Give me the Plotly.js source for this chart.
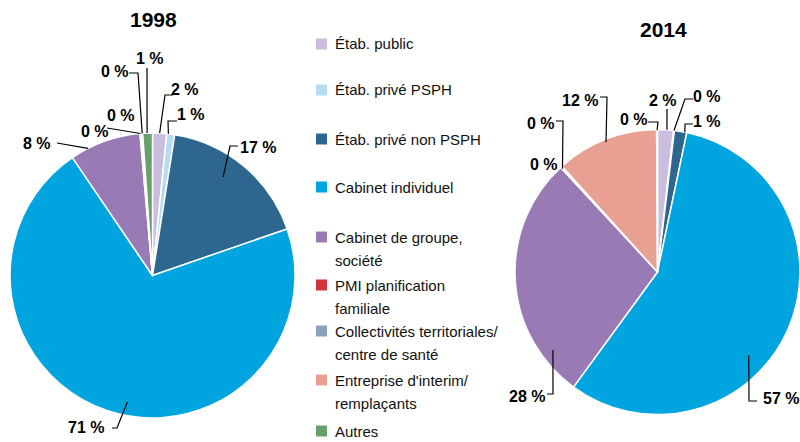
<!DOCTYPE html>
<html>
<head>
<meta charset="utf-8">
<script src="https://cdn.plot.ly/plotly-3.0.1.min.js"></script>
<style>html,body{margin:0;padding:0;background:#fff;}#chart{width:800px;height:442px;}</style>
</head>
<body>
<div id="chart"></div>
<script>
// ---- Data ----
const categories = [
  "Étab. public",
  "Étab. privé PSPH",
  "Étab. privé non PSPH",
  "Cabinet individuel",
  "Cabinet de groupe,<br>société",
  "PMI planification<br>familiale",
  "Collectivités territoriales/<br>centre de santé",
  "Entreprise d'interim/<br>remplaçants",
  "Autres"
];
const years = ["1998", "2014"];
const values1998 = [1.6, 0.9, 17.2, 70.8, 8.1, 0.1, 0.1, 0.1, 1.1];
const values2014 = [1.8, 0.1, 1.4, 56.8, 28.1, 0.1, 0.1, 11.6, 0.1];

// ---- Styles ----
const colors = ["#CBBDDD", "#B7DBF3", "#2D6790", "#00A5DF", "#9A7AB5",
                "#D1343A", "#8AA1BE", "#E8A093", "#67A06A"];
const W = 800, H = 442;
const FONT = "Liberation Sans, Arial, sans-serif";

// pie boxes in pixels (layout)
const pieBoxes = [
  {x0: 10, x1: 295, y0: 133, y1: 418, titleX: 153, titleY: 19.5},
  {x0: 515, x1: 800, y0: 129.5, y1: 414.5, titleX: 663, titleY: 29.5}
];
// label placement (layout): label centre, leader start/elbow, anchor fraction along slice, radius factor
const place1998 = [
  {lx:185, ly:90,  sx:173, ex:165, ey:95,  t:0.5,  f:1},
  {lx:191, ly:115, sx:177, ex:168, ey:121, t:0.2,  f:1},
  {lx:258, ly:148, sx:238, ex:230, ey:146, t:0.43, f:0.85},
  {lx:86,  ly:427, sx:112, ex:117, ey:428, t:0.472,f:0.905},
  {lx:37,  ly:144, sx:57,  ex:57,  ey:143, t:0.25, f:1},
  {lx:95,  ly:131, sx:107, ex:107, ey:128, t:0.5,  f:1},
  {lx:121, ly:116, none:true},
  {lx:115, ly:72,  sx:129, ex:138, ey:73,  t:0.5,  f:1},
  {lx:150, ly:59,  sx:147, ex:147, ey:68,  t:0.45, f:1}
];
const place2014 = [
  {lx:663, ly:101, sx:667, ex:667, ey:109, t:0.59, f:1},
  {lx:707, ly:96,  sx:693, ex:685, ey:99,  t:0.5,  f:1},
  {lx:707, ly:121, sx:693, ex:685, ey:124, t:0.84, f:1},
  {lx:781, ly:398, sx:757, ex:749, ey:401, t:0.59, f:0.867},
  {lx:527, ly:396, sx:547, ex:553, ey:394, t:0.17, f:0.915},
  {lx:541, ly:123, sx:556, ex:563, ey:121, t:0.5,  f:0.985},
  {lx:544, ly:164, none:true},
  {lx:580, ly:101, sx:600, ex:607, ey:97,  t:0.49, f:0.98},
  {lx:634, ly:120, sx:648, ex:658, ey:122, t:0.5,  f:0.995}
];

const px = x => x / W;
const py = y => 1 - y / H;

const allValues = [values1998, values2014];
const placements = [place1998, place2014];

const data = allValues.map((vals, k) => {
  const b = pieBoxes[k];
  return {
    type: "pie",
    labels: categories,
    values: vals,
    sort: false,
    direction: "clockwise",
    rotation: 0,
    textinfo: "none",
    hoverinfo: "label+percent",
    showlegend: false,
    marker: {colors: colors, line: {color: "#ffffff", width: 1.5}},
    domain: {x: [px(b.x0), px(b.x1)], y: [py(b.y1), py(b.y0)]}
  };
});

const annotations = [];
const shapes = [];

allValues.forEach((vals, k) => {
  const b = pieBoxes[k];
  const cx = (b.x0 + b.x1) / 2, cy = (b.y0 + b.y1) / 2;
  const r = Math.min(b.x1 - b.x0, b.y1 - b.y0) / 2;
  const total = vals.reduce((a, c) => a + c, 0);
  annotations.push({
    xref: "paper", yref: "paper", x: px(b.titleX), y: py(b.titleY),
    text: "<b>" + years[k] + "</b>", showarrow: false,
    xanchor: "center", yanchor: "middle",
    font: {family: FONT, size: 21, color: "#000"}
  });
  let cum = 0;
  vals.forEach((v, i) => {
    const p = placements[k][i];
    const pct = Math.round(v / total * 100);
    annotations.push({
      xref: "paper", yref: "paper", x: px(p.lx), y: py(p.ly),
      text: "<b>" + pct + " %</b>", showarrow: false,
      xanchor: "center", yanchor: "middle",
      font: {family: FONT, size: 16, color: "#000"}
    });
    if (!p.none) {
      const frac = (cum + v * p.t) / total;
      const ang = frac * 2 * Math.PI;
      const ax = cx + r * p.f * Math.sin(ang);
      const ay = cy - r * p.f * Math.cos(ang);
      const path = "M " + px(p.sx) + "," + py(p.ey) +
                   " L " + px(p.ex) + "," + py(p.ey) +
                   " L " + px(ax) + "," + py(ay);
      shapes.push({type: "path", xref: "paper", yref: "paper", path: path,
                   line: {color: "#000", width: 1.2}});
    }
    cum += v;
  });
});

// manual legend
const legendRowY = [44, 90, 139, 187, 237, 285, 331, 380, 431];
categories.forEach((lab, i) => {
  const y0 = legendRowY[i];
  shapes.push({type: "rect", xref: "paper", yref: "paper",
    x0: px(316), x1: px(327), y0: py(y0 - 5.5), y1: py(y0 + 5.5),
    fillcolor: colors[i], line: {width: 0}});
  lab.split("<br>").forEach((line, j) => {
    annotations.push({
      xref: "paper", yref: "paper", x: px(333), y: py(y0 + j * 23),
      text: line, showarrow: false, xanchor: "left", yanchor: "middle",
      font: {family: FONT, size: 15, color: "#111"}
    });
  });
});

const layout = {
  width: W, height: H,
  margin: {l: 0, r: 0, t: 0, b: 0},
  paper_bgcolor: "#fff",
  showlegend: false,
  annotations: annotations,
  shapes: shapes,
  font: {family: FONT}
};

Plotly.newPlot("chart", data, layout, {displayModeBar: false, staticPlot: true});
</script>
</body>
</html>
